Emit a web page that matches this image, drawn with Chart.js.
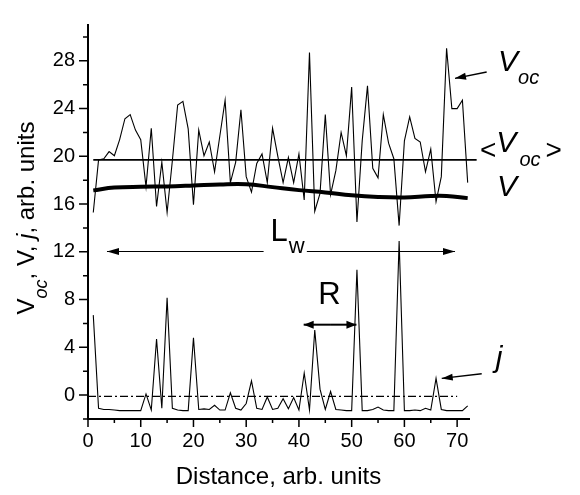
<!DOCTYPE html>
<html>
<head>
<meta charset="utf-8">
<script src="https://cdn.jsdelivr.net/npm/chart.js@4.4.1/dist/chart.umd.min.js"></script>
<style>
  html, body { margin: 0; padding: 0; background: #fff; }
  #wrap { width: 580px; height: 495px; }
</style>
</head>
<body>
<div id="wrap"><canvas id="chart" width="580" height="495"></canvas></div>
<script>
// Distance along the sample, arb. units
const distance = [1, 2, 3, 4, 5, 6, 7, 8, 9, 10, 11, 12, 13, 14, 15, 16, 17, 18, 19, 20,
  21, 22, 23, 24, 25, 26, 27, 28, 29, 30, 31, 32, 33, 34, 35, 36, 37, 38, 39, 40,
  41, 42, 43, 44, 45, 46, 47, 48, 49, 50, 51, 52, 53, 54, 55, 56, 57, 58, 59, 60,
  61, 62, 63, 64, 65, 66, 67, 68, 69, 70, 71, 72];

// Open circuit voltage Voc
const vocValues = [15.3, 19.7, 19.8, 20.4, 20.05, 21.4, 23.15, 23.5, 22.2, 21.4,
  17.45, 22.35, 15.8, 19.5, 15.3, 19.65, 24.3, 24.6, 22.3, 15.95,
  22.2, 20.05, 21.2, 18.7, 21.7, 24.7, 17.8, 19.5, 23.9, 18.3,
  17.0, 19.4, 20.2, 17.8, 22.35, 20.0, 17.8, 19.9, 17.8, 20.2,
  16.35, 28.7, 15.4, 16.9, 23.5, 16.8, 18.8, 22.0, 20.05, 25.8,
  14.5, 21.3, 25.9, 19.0, 18.2, 23.5, 21.1, 19.8, 14.2, 21.3,
  23.3, 21.5, 21.2, 18.7, 20.6, 16.2, 18.3, 29.05, 24.0, 24.0,
  24.7, 17.8];

// Current j
const jValues = [6.7, -1.1, -1.2, -1.2, -1.25, -1.3, -1.3, -1.3, -1.3, -1.3,
  0.1, -1.25, 4.7, -1.1, 8.15, -1.1, -1.25, -1.3, -1.3, 4.8,
  -1.2, -1.15, -1.2, -0.85, -1.25, -1.25, 0.2, -1.1, -1.25, -0.7,
  1.2, -1.1, -1.2, -0.15, -1.2, -1.1, -0.3, -1.15, -0.2, -1.25,
  1.85, -1.25, 5.45, 0.5, -1.2, 0.3, -1.2, -1.25, -1.3, -1.3,
  10.5, -1.3, -1.3, -1.2, -1.0, -1.25, -1.3, -1.3, 12.9, -1.3,
  -1.3, -1.25, -1.3, -1.1, -1.25, 1.4, -1.2, -1.3, -1.3, -1.3,
  -1.3, -0.9];

// Smoothed V
const vDistance = [1, 5, 10, 15, 20, 25, 30, 35, 40, 45, 50, 55, 60, 65, 68, 72];
const vValues = [17.15, 17.38, 17.45, 17.48, 17.56, 17.65, 17.67, 17.42, 17.17, 16.98,
  16.74, 16.6, 16.56, 16.68, 16.68, 16.5];

// Mean Voc and the j reference line
const vocMean = 19.7;
const vocMeanRange = [1, 73.7];
const jRef = -0.1;
const jRefRange = [0, 70];

const xTickValues = [0, 10, 20, 30, 40, 50, 60, 70];
const xMinorTicks = [5, 15, 25, 35, 45, 55, 65];
const yTickValues = [0, 4, 8, 12, 16, 20, 24, 28];
const yMinorTicks = [-2, 2, 6, 10, 14, 18, 22, 26, 30];

const FONT = 'Arial, "Liberation Sans", sans-serif';

function pts(xs, ys) {
  return xs.map((x, i) => ({ x: x, y: ys[i] }));
}

function drawRich(ctx, x, y, parts) {
  let cx = x;
  parts.forEach(p => {
    ctx.font = (p.italic ? 'italic ' : '') + p.size + 'px ' + FONT;
    cx += (p.dx || 0);
    ctx.fillText(p.text, cx, y + (p.dy || 0));
    cx += ctx.measureText(p.text).width;
  });
  return cx - x;
}

function richWidth(ctx, parts) {
  let w = 0;
  parts.forEach(p => {
    ctx.font = (p.italic ? 'italic ' : '') + p.size + 'px ' + FONT;
    w += (p.dx || 0) + ctx.measureText(p.text).width;
  });
  return w;
}

function arrowHead(ctx, x0, y0, x1, y1, len, half) {
  const a = Math.atan2(y1 - y0, x1 - x0);
  ctx.beginPath();
  ctx.moveTo(x1, y1);
  ctx.lineTo(x1 - len * Math.cos(a) + half * Math.sin(a), y1 - len * Math.sin(a) - half * Math.cos(a));
  ctx.lineTo(x1 - len * Math.cos(a) - half * Math.sin(a), y1 - len * Math.sin(a) + half * Math.cos(a));
  ctx.closePath();
  ctx.fill();
}

function arrow(ctx, x0, y0, x1, y1, width, len, half) {
  ctx.lineWidth = width;
  ctx.beginPath();
  ctx.moveTo(x0, y0);
  ctx.lineTo(x1, y1);
  ctx.stroke();
  arrowHead(ctx, x0, y0, x1, y1, len, half);
}

// minor/major tick marks, axis title with subscripts, annotations
const decor = {
  id: 'decor',
  afterDraw(chart) {
    const { ctx, chartArea } = chart;
    const xs = chart.scales.x, ys = chart.scales.y;
    const px = v => xs.getPixelForValue(v);
    const py = v => ys.getPixelForValue(v);
    ctx.save();
    ctx.strokeStyle = '#000';
    ctx.fillStyle = '#000';

    // ticks
    ctx.lineWidth = 1.5;
    ctx.beginPath();
    yTickValues.forEach(v => { ctx.moveTo(chartArea.left - 9, py(v)); ctx.lineTo(chartArea.left, py(v)); });
    yMinorTicks.forEach(v => { ctx.moveTo(chartArea.left - 5, py(v)); ctx.lineTo(chartArea.left, py(v)); });
    xTickValues.forEach(v => { ctx.moveTo(px(v), chartArea.bottom); ctx.lineTo(px(v), chartArea.bottom + 8); });
    xMinorTicks.forEach(v => { ctx.moveTo(px(v), chartArea.bottom); ctx.lineTo(px(v), chartArea.bottom + 4); });
    ctx.stroke();

    // y axis title
    const yTitle = [
      { text: 'V', size: 24 },
      { text: 'oc', size: 18, italic: true, dy: 13 },
      { text: ', V, ', size: 24 },
      { text: 'j', size: 24, italic: true },
      { text: ', arb. units', size: 24 }
    ];
    ctx.save();
    ctx.translate(34, (chartArea.top + chartArea.bottom) / 2 - 4);
    ctx.rotate(-Math.PI / 2);
    ctx.textBaseline = 'alphabetic';
    drawRich(ctx, -richWidth(ctx, yTitle) / 2, 0, yTitle);
    ctx.restore();

    ctx.textBaseline = 'alphabetic';

    // Lw arrow
    const lwY = py(12.03);
    arrow(ctx, px(33.3), lwY, px(3.6), lwY, 1.2, 12, 3.5);
    arrow(ctx, px(41.5), lwY, px(69.6), lwY, 1.2, 12, 3.5);
    drawRich(ctx, px(34.6), lwY - 10, [
      { text: 'L', size: 31 },
      { text: 'w', size: 22, dy: 12, dx: 1 }
    ]);

    // R arrow
    const rY = py(5.9);
    arrow(ctx, px(45.9), rY, px(40.9), rY, 2, 10, 4);
    arrow(ctx, px(45.9), rY, px(50.9), rY, 2, 10, 4);
    drawRich(ctx, px(43.66), py(7.64), [{ text: 'R', size: 31 }]);

    // Voc label
    arrow(ctx, px(75.6), py(27.06), px(69.6), py(26.53), 1.4, 11, 3.5);
    drawRich(ctx, px(77.75), py(27.17), [
      { text: 'V', size: 30, italic: true },
      { text: 'oc', size: 20, italic: true, dy: 13 }
    ]);

    // <Voc> label
    drawRich(ctx, px(74.34), py(19.79), [
      { text: '<', size: 28 },
      { text: 'V', size: 30, italic: true, dy: -7 },
      { text: 'oc', size: 20, italic: true, dy: 7, dx: 3 },
      { text: '>', size: 28, dx: 5 }
    ]);

    // V label
    drawRich(ctx, px(77.56), py(16.69), [{ text: 'V', size: 30, italic: true }]);

    // j label
    arrow(ctx, px(74.66), py(1.79), px(67.08), py(1.40), 1.4, 11, 3.5);
    drawRich(ctx, px(77.3), py(2.34), [{ text: 'j', size: 30, italic: true }]);

    ctx.restore();
  }
};

const ctx = document.getElementById('chart').getContext('2d');
new Chart(ctx, {
  type: 'line',
  data: {
    datasets: [
      { data: pts(distance, vocValues), borderColor: '#000', borderWidth: 1.1, pointRadius: 0 },
      { data: pts(vocMeanRange, [vocMean, vocMean]), borderColor: '#000', borderWidth: 1.7, pointRadius: 0, clip: false },
      { data: pts(vDistance, vValues), borderColor: '#000', borderWidth: 4, pointRadius: 0, tension: 0.4 },
      { data: pts(distance, jValues), borderColor: '#000', borderWidth: 1.1, pointRadius: 0 },
      { data: pts(jRefRange, [jRef, jRef]), borderColor: '#000', borderWidth: 1.3, pointRadius: 0, borderDash: [8, 3, 2, 3] }
    ]
  },
  options: {
    responsive: false,
    animation: false,
    devicePixelRatio: 1,
    layout: { padding: { left: 0, right: 111, top: 4, bottom: 0 } },
    plugins: { legend: { display: false }, tooltip: { enabled: false } },
    scales: {
      x: {
        type: 'linear',
        min: 0,
        max: 72.25,
        afterBuildTicks: s => { s.ticks = xTickValues.map(v => ({ value: v })); },
        afterFit: s => { s.height = 76; },
        grid: { display: false, drawTicks: false },
        border: { display: true, width: 2, color: '#000' },
        ticks: { color: '#000', padding: 10, maxRotation: 0, autoSkip: false, font: { family: FONT, size: 20 } },
        title: { display: true, text: 'Distance, arb. units', color: '#000', padding: { top: 0, bottom: 3 }, font: { family: FONT, size: 24 } }
      },
      y: {
        type: 'linear',
        min: -2,
        max: 31,
        afterBuildTicks: s => { s.ticks = yTickValues.map(v => ({ value: v })); },
        afterFit: s => { s.width = 88; },
        grid: { display: false, drawTicks: false },
        border: { display: true, width: 2, color: '#000' },
        ticks: { color: '#000', padding: 13, autoSkip: false, font: { family: FONT, size: 20 } }
      }
    }
  },
  plugins: [decor]
});
</script>
</body>
</html>
